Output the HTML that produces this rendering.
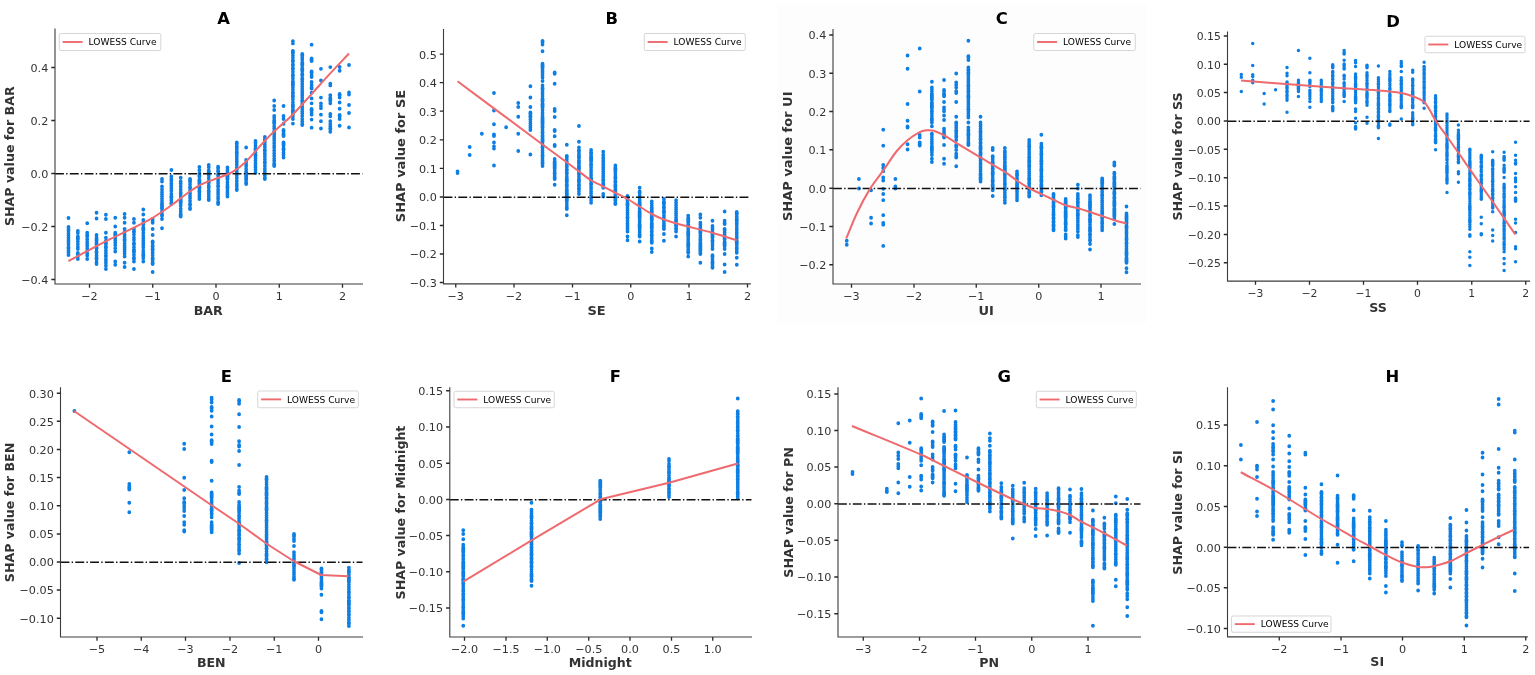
<!DOCTYPE html>
<html lang="en">
<head>
<meta charset="utf-8">
<title>SHAP dependence plots with LOWESS curves</title>
<style>
html,body{margin:0;padding:0;background:#fff;}
body{width:1535px;height:675px;overflow:hidden;}
svg{display:block;font-family:"DejaVu Sans","Liberation Sans",sans-serif;}
</style>
</head>
<body>
<svg width="1535" height="675" viewBox="0 0 1535 675">
<rect width="1535" height="675" fill="#fff"/>
<path d="M68.5 218h0M68.5 227h0M68.5 228.99h0M68.5 230.73h0M68.5 233.54h0M68.5 235.58h0M68.5 237.79h0M68.5 240.03h0M68.5 241.88h0M68.5 244.29h0M68.5 247.2V248.54M68.5 250.81h0M68.5 252.51h0M68.5 255h0M77.85 231h0M77.85 233h0M77.85 236.5V239.2M77.85 241.41h0M77.85 244.24h0M77.85 246.95h0M77.85 249h0M77.85 253V254.46M77.85 256.33h0M77.85 259h0M87.2 223.25h0M87.2 232.75h0M87.2 234.65V236.28M87.2 239.24h0M87.2 241.64h0M87.2 243.6h0M87.2 245.7h0M87.2 248.23h0M87.2 250.88h0M87.2 253.56h0M87.2 255.39h0M87.2 259h0M96.55 212.75h0M96.55 218.5h0M96.55 235h0M96.55 237.65h0M96.55 239.36V240.89M96.55 242.91V244.6M96.55 247.47V248.69M96.55 251.44V252.95M96.55 255.69h0M96.55 257.71V259.16M96.55 262.24h0M96.55 264h0M105.9 214.75h0M105.9 219h0M105.9 232.75h0M105.9 237.75h0M105.9 240.81h0M105.9 242.62V244.27M105.9 246.53V248.1M105.9 250.39h0M105.9 252.94h0M105.9 255.36V256.57M105.9 259.04h0M105.9 260.75h0M105.9 262.81h0M105.9 265.64h0M105.9 269h0M115.25 217.75h0M115.25 226.5h0M115.25 232.75V235.57M115.25 238.21h0M115.25 240.23h0M115.25 242.77h0M115.25 245.2h0M115.25 248.28h0M115.25 251.5h0M115.25 261.5h0M115.25 264.75h0M124.6 214h0M124.6 217.75h0M124.6 222.75h0M124.6 229h0M124.6 232.09h0M124.6 235.01h0M124.6 237.29h0M124.6 239.26V240.77M124.6 243.56h0M124.6 245.7h0M124.6 247.82h0M124.6 249.58h0M124.6 251.41h0M124.6 253.57h0M124.6 256.5h0M124.6 262.75h0M124.6 267h0M133.95 219h0M133.95 222.75h0M133.95 229h0M133.95 230.79V232.27M133.95 234.6h0M133.95 237.6h0M133.95 239.86h0M133.95 242.92V244.47M133.95 247.18h0M133.95 249.4V252.19M133.95 254.76h0M133.95 257.52V258.97M133.95 261.5h0M133.95 269h0M143.3 209.5h0M143.3 214.5h0M143.3 220h0M143.3 222.89V224.54M143.3 227.32V230.27M143.3 232.99h0M143.3 235.87h0M143.3 238.4h0M143.3 240.55h0M143.3 243h0M143.3 245.27h0M143.3 247.62h0M143.3 250.59h0M143.3 252.69h0M143.3 254.4V256.02M143.3 258.22h0M143.3 261.5h0M152.65 219h0M152.65 220.93h0M152.65 222.75h0M152.65 229h0M152.65 235h0M152.65 241.5V243.01M152.65 245.57V246.79M152.65 248.67V250.18M152.65 252.76h0M152.65 255.36h0M152.65 257.86V259.25M152.65 260.95h0M152.65 262.68V264M152.65 272h0M162 179h0M162 181.5h0M162 186.5h0M162 189.48h0M162 192.16h0M162 194.45h0M162 196.45h0M162 198.77h0M162 201.01h0M162 202.92V209.02M162 211.6h0M162 214.34V215.84M162 219h0M162 228.25h0M171.35 170h0M171.35 176.5h0M171.35 179.16h0M171.35 181.05h0M171.35 183.66h0M171.35 185.78h0M171.35 188.23h0M171.35 190.85h0M171.35 193.81h0M171.35 196.11V197.72M171.35 200.15h0M171.35 202.6V204M180.7 177.75h0M180.7 181.5h0M180.7 183.39h0M180.7 186.49h0M180.7 189.5h0M180.7 192.15h0M180.7 194h0M180.7 196.5h0M180.7 198.95V203.46M180.7 205.82h0M180.7 208.86h0M180.7 211.49h0M180.7 213.92V216.5M190.05 179V181.88M190.05 184.15h0M190.05 186.86V188.17M190.05 190.82h0M190.05 193.25h0M190.05 195.69h0M190.05 197.98h0M190.05 201.02h0M190.05 203.82V205.08M190.05 208.02V209M199.4 167h0M199.4 170.06h0M199.4 173.06h0M199.4 175.04V176.51M199.4 179.55V183.88M199.4 186.62V188.13M199.4 190.5V192.15M199.4 194.52h0M199.4 196.52h0M199.4 199h0M208.75 165h0M208.75 167.35h0M208.75 170.4V173.2M208.75 175.52h0M208.75 178.28h0M208.75 181.28V182.7M208.75 185.73h0M208.75 187.76h0M208.75 190.7V191.95M208.75 193.87h0M208.75 196.14h0M208.75 198.76V200M218.1 166.75V168.19M218.1 170.45V171.87M218.1 174.41V175.76M218.1 178.66h0M218.1 180.69h0M218.1 182.95h0M218.1 185.39V186.74M218.1 189.66h0M218.1 191.92h0M218.1 194.05h0M218.1 196.64h0M218.1 198.68h0M218.1 201.67V204M227.45 167.5h0M227.45 169.89h0M227.45 172.49h0M227.45 175.07V179.62M227.45 182.48h0M227.45 184.84h0M227.45 186.57V188.26M227.45 190.74h0M227.45 192.59h0M227.45 194.3h0M227.45 196.5h0M236.8 142.5V144.07M236.8 145.91V147.45M236.8 149.19h0M236.8 151.75V153.16M236.8 155.03h0M236.8 156.99h0M236.8 159.05h0M236.8 161.02h0M236.8 162.81h0M236.8 164.66h0M236.8 167.55h0M236.8 169.52h0M236.8 171.43h0M236.8 173.17h0M236.8 175.59h0M236.8 178h0M236.8 181.01h0M236.8 183.96h0M236.8 186.3h0M236.8 188.99V190M246.15 147.5h0M246.15 160h0M246.15 162.15h0M246.15 164.46h0M246.15 166.22h0M246.15 169.2h0M246.15 171.57V172.96M246.15 175.3V180.03M246.15 182.31V184M255.5 141h0M255.5 142.92h0M255.5 145.55h0M255.5 148.31V149.95M255.5 152.16h0M255.5 154.78V156.06M255.5 158.17h0M255.5 160.55h0M255.5 163.14h0M255.5 165.56h0M255.5 167.61h0M255.5 169.71h0M255.5 172.75h0M264.85 137h0M264.85 139.07V140.4M264.85 142.53h0M264.85 144.7h0M264.85 147h0M264.85 149.56V150.89M264.85 152.95h0M264.85 154.74h0M264.85 156.87h0M264.85 159.43h0M264.85 161.79V163.36M264.85 165.98h0M264.85 168.99h0M264.85 171.04h0M264.85 172.83h0M264.85 175.6h0M264.85 177.64V179M274.2 100.5h0M274.2 106h0M274.2 110h0M274.2 116h0M274.2 117.85h0M274.2 120.25V123.6M274.2 126.48h0M274.2 128.51h0M274.2 131.27V132.73M274.2 134.69h0M274.2 136.54h0M274.2 138.28h0M274.2 140.31h0M274.2 142.9h0M274.2 145.72h0M274.2 147.61h0M274.2 150.45h0M274.2 153.38h0M274.2 156.11h0M274.2 158.79h0M274.2 160.7h0M274.2 163.48V166M283.55 106h0M283.55 116h0M283.55 119h0M283.55 123.75h0M283.55 130V131.46M283.55 133.43V136M283.55 142.5V145.45M283.55 148.23V149.92M283.55 152.66h0M283.55 154.67h0M283.55 157.5h0M292.9 41.2h0M292.9 43.4h0M292.9 50.8V53.43M292.9 55.35h0M292.9 57.59h0M292.9 60.11V61.45M292.9 64.26V65.62M292.9 67.97V69.19M292.9 71.73h0M292.9 74.77V76.34M292.9 78.55h0M292.9 81.3V85.82M292.9 87.68h0M292.9 89.84h0M292.9 92.01V93.63M292.9 95.59V97.13M292.9 99.51h0M292.9 102.28h0M292.9 104.56V107.19M292.9 109.35V112.43M292.9 114.18h0M292.9 116.15h0M292.9 119h0M292.9 123.6h0M302.25 54V55.65M302.25 57.73h0M302.25 59.56h0M302.25 62.3V65.4M302.25 68.26V70.88M302.25 73.82V75.2M302.25 78.25V79.71M302.25 81.55h0M302.25 83.92h0M302.25 86.41h0M302.25 89.02h0M302.25 91.35h0M302.25 93.26h0M302.25 95.2h0M302.25 97.39h0M302.25 100.21V101.66M302.25 103.99h0M302.25 106.91h0M302.25 109.32h0M302.25 111.61h0M302.25 113.57h0M302.25 116.03h0M302.25 119.09h0M302.25 121.39h0M302.25 123.88V125M311.6 44.7h0M311.6 58.5V61M311.6 71.5V73.01M311.6 75.27h0M311.6 77h0M311.6 82h0M311.6 84.97h0M311.6 87.26V88.6M311.6 92.7h0M311.6 98.4h0M311.6 103.3h0M311.6 109V110.52M311.6 112.49h0M311.6 114.7h0M311.6 119.6h0M311.6 127.7h0M320.95 68.8h0M320.95 80.5h0M320.95 97.6h0M320.95 103.3h0M320.95 105.98h0M320.95 108.2h0M320.95 114.7h0M320.95 121.2h0M320.95 128.5h0M330.3 67.1h0M330.3 83.7h0M330.3 85.4h0M330.3 95.1h0M330.3 97.72V100.86M330.3 103.3h0M330.3 113.9h0M330.3 116.3h0M330.3 121.2h0M330.3 124.09h0M330.3 126.2h0M330.3 128.09V129.33M330.3 131.8h0M339.65 67h0M339.65 70.75h0M339.65 94V95.5M339.65 97.5h0M339.65 102.5h0M339.65 108.75h0M339.65 115V116.47M339.65 119h0M339.65 125.75h0M349 65h0M349 92.5h0M349 94.5h0M349 105h0M349 113h0M349 127.5h0" fill="none" stroke="#0C7EE4" stroke-width="3.8" stroke-linecap="round"/>
<path d="M55 173.75H362.5" stroke="#111" stroke-width="1.4" stroke-dasharray="8.9 2.25 1.4 2.25" fill="none"/>
<path d="M68.5 261C82.33 253.73 96.17 246.28 110 239.2C123.33 232.38 136.67 226.64 150 219.3C156.9 215.5 163.8 210.59 170.7 205.8C175.47 202.49 180.23 198.39 185 195C189.93 191.49 194.87 187.63 199.8 185.1C206.03 181.9 212.27 180.33 218.5 177.8C223.33 175.83 228.17 174.4 233 171.6C237.13 169.2 241.27 165.97 245.4 162.2C248.87 159.04 252.33 154.62 255.8 150.8C258.9 147.39 262 143.76 265.1 140.5C268.27 137.16 271.43 133.97 274.6 131C280.6 125.37 286.6 120.7 292.6 114.7C298.83 108.47 305.07 101.15 311.3 94.3C317.53 87.45 323.77 80.35 330 73.6C336.33 66.75 342.67 60.2 349 53.5" fill="none" stroke="#EE6A6E" stroke-width="2" stroke-linejoin="round" stroke-linecap="butt"/>
<path d="M55 29V284H362.5" fill="none" stroke="#3c3c3c" stroke-width="1.1" stroke-linecap="square"/>
<path d="M89.5 284v3.7M152.75 284v3.7M216 284v3.7M279.25 284v3.7M342.5 284v3.7M55 67.5h-3.7M55 120.5h-3.7M55 173.5h-3.7M55 226.5h-3.7M55 279.5h-3.7" fill="none" stroke="#2a2a2a" stroke-width="1.3"/>
<g font-size="11.2" fill="#333333">
<text x="89.5" y="299.6" text-anchor="middle">−2</text>
<text x="152.75" y="299.6" text-anchor="middle">−1</text>
<text x="216" y="299.6" text-anchor="middle">0</text>
<text x="279.25" y="299.6" text-anchor="middle">1</text>
<text x="342.5" y="299.6" text-anchor="middle">2</text>
<text x="48.3" y="71.9" text-anchor="end">0.4</text>
<text x="48.3" y="124.9" text-anchor="end">0.2</text>
<text x="48.3" y="177.9" text-anchor="end">0.0</text>
<text x="48.3" y="230.9" text-anchor="end">−0.2</text>
<text x="48.3" y="283.9" text-anchor="end">−0.4</text>
</g>
<text x="208.25" y="314.75" text-anchor="middle" font-size="12.6" font-weight="bold" fill="#333333">BAR</text>
<text transform="translate(14.25 156.25) rotate(-90)" text-anchor="middle" font-size="12.6" font-weight="bold" fill="#333333">SHAP value for BAR</text>
<text x="223.5" y="24" text-anchor="middle" font-size="16.4" font-weight="bold" fill="#000">A</text>
<rect x="59.3" y="33.5" width="101.5" height="17" rx="1.6" fill="#fff" fill-opacity="0.8" stroke="#ccc" stroke-opacity="0.8" stroke-width="1"/>
<path d="M62.6 42h20" stroke="#EE6A6E" stroke-width="1.9" fill="none"/>
<text x="88.6" y="45.3" font-size="9.1" fill="#000">LOWESS Curve</text>
<path d="M457.55 171.5h0M457.55 173h0M469.69 147h0M469.69 155h0M481.83 133.75h0M493.97 93h0M493.97 110.5h0M493.97 124.25h0M493.97 134.5V136M493.97 142.5h0M493.97 146.5h0M493.97 148.5h0M493.97 165.5h0M506.11 127.25h0M518.25 103h0M518.25 107h0M518.25 116.75h0M518.25 133.75h0M518.25 151h0M530.39 86.25h0M530.39 97.5h0M530.39 107h0M530.39 112.5V113.94M530.39 115.67V117.13M530.39 119.43h0M530.39 121.32h0M530.39 123.46h0M530.39 125.86h0M530.39 127.65h0M530.39 130h0M530.39 154.5h0M542.53 41V42.28M542.53 44.5h0M542.53 51.25h0M542.53 63.75V67.89M542.53 70.01h0M542.53 71.75h0M542.53 73.56h0M542.53 75.4h0M542.53 77.5h0M542.53 81h0M542.53 85.5h0M542.53 87.97V89.59M542.53 91.92h0M542.53 94.02h0M542.53 96.09h0M542.53 98.56V101.49M542.53 103.27V107.69M542.53 110.08h0M542.53 112.53h0M542.53 114.86h0M542.53 117.07V124.33M542.53 126.09V127.77M542.53 129.79h0M542.53 131.67V132.91M542.53 135.2V136.9M542.53 138.67V141.9M542.53 144.29h0M542.53 146.74V148.1M542.53 150.48h0M542.53 152.72h0M542.53 154.97V156.47M542.53 158.82h0M542.53 160.74h0M542.53 162.48V163.63M542.53 166h0M554.67 72.5V73.75M554.67 83.75h0M554.67 109h0M554.67 111h0M554.67 117h0M554.67 130V131M554.67 136.25h0M554.67 145V146M554.67 159h0M554.67 161.24V168.42M554.67 170.46h0M554.67 172.54V173.9M554.67 176.02h0M554.67 177.87V179M554.67 184.75h0M566.81 144.75h0M566.81 156V157.24M566.81 159.32h0M566.81 161.7h0M566.81 163.95h0M566.81 165.89V167.09M566.81 169.22V170.41M566.81 172.6V173.83M566.81 176.29h0M566.81 178.06V182.17M566.81 184.26V186.94M566.81 189.1V201.15M566.81 203.54h0M566.81 205.81h0M566.81 207.68V209M566.81 215.25h0M578.95 126h0M578.95 141.75h0M578.95 147.5h0M578.95 149.9V151.38M578.95 153.21h0M578.95 155.09V158.19M578.95 160.55V163.38M578.95 165.45V169.28M578.95 171.4h0M578.95 173.23V174.84M578.95 177.12h0M578.95 179.12V181.89M578.95 184.24V185.91M578.95 187.78V189.39M578.95 191.81h0M578.95 194h0M591.09 150h0M591.09 152.26V153.92M591.09 155.98V161.49M591.09 163.92V165.34M591.09 167.22h0M591.09 169.54h0M591.09 171.39h0M591.09 173.74h0M591.09 175.84h0M591.09 177.99V180.81M591.09 183.13V184.77M591.09 186.93h0M591.09 188.92h0M591.09 191.4h0M591.09 193.26h0M591.09 195.71h0M591.09 197.97h0M591.09 200.05h0M591.09 202.75h0M603.23 151.75h0M603.23 155h0M603.23 157.05h0M603.23 158.78h0M603.23 161.02h0M603.23 163.11h0M603.23 165h0M603.23 167.14h0M603.23 169h0M603.23 171.35h0M603.23 173.19h0M603.23 175.55h0M603.23 177.28h0M603.23 179.51V180.66M603.23 183.08V186.03M603.23 187.75h0M603.23 194h0M603.23 196.5h0M615.37 165.5h0M615.37 167.55V170.46M615.37 172.23h0M615.37 174.55h0M615.37 176.86V178.4M615.37 180.88V182.39M615.37 184.81V187.22M615.37 189.17V190.71M615.37 192.67h0M615.37 194.47V195.85M615.37 198.21V200.86M615.37 202.76V204M627.51 196V200.4M627.51 202.65V205.69M627.51 208.02h0M627.51 210.22h0M627.51 212.55h0M627.51 214.43h0M627.51 216.91V218.59M627.51 220.95h0M627.51 223.4h0M627.51 225.33h0M627.51 227.14h0M627.51 229.12h0M627.51 231.5h0M627.51 236.5h0M627.51 240.25h0M639.65 187.75h0M639.65 191.5V192.94M639.65 195.44h0M639.65 197.56h0M639.65 199.97h0M639.65 202.27V206.24M639.65 208.45h0M639.65 210.88V217.93M639.65 219.93h0M639.65 221.89h0M639.65 224.27V228.46M639.65 230.45h0M639.65 232.17h0M639.65 234.13V236.5M639.65 241.5h0M651.79 201.5h0M651.79 203.33h0M651.79 205.4h0M651.79 207.6V208.91M651.79 210.76V212.2M651.79 214.21h0M651.79 216.55V220.6M651.79 222.94V228.62M651.79 230.93V232.05M651.79 234.47V235.98M651.79 238.44h0M651.79 240.48V242.75M651.79 248.5h0M651.79 252h0M663.93 199h0M663.93 201.48V204.46M663.93 206.61V208.14M663.93 210.6V213.12M663.93 215.55h0M663.93 217.27h0M663.93 219.45V220.99M663.93 223.19h0M663.93 224.98V226.26M663.93 228.04V229M663.93 234h0M663.93 240.75h0M676.07 200.25h0M676.07 202.67h0M676.07 205.03h0M676.07 207.41h0M676.07 209.49h0M676.07 211.68h0M676.07 213.58h0M676.07 215.52h0M676.07 217.64h0M676.07 219.46V221.14M676.07 223.05V226.32M676.07 228.06V229.5M676.07 231.5h0M676.07 236.5h0M688.21 215.75h0M688.21 217.81V222.15M688.21 224.04V227.01M688.21 229.03h0M688.21 231.13V235.38M688.21 237.37h0M688.21 239.16h0M688.21 241.19h0M688.21 242.95V247.02M688.21 249.27h0M688.21 251.2V252.75M688.21 256.5h0M700.35 214.5h0M700.35 217.75h0M700.35 222.75h0M700.35 224.68h0M700.35 227.11h0M700.35 229.07V233.29M700.35 235.55h0M700.35 237.45h0M700.35 239.35V240.47M700.35 242.5V250.93M700.35 252.86V254M700.35 262.75h0M712.49 220.75h0M712.49 226h0M712.49 228.02h0M712.49 229.73h0M712.49 232.21V237.84M712.49 240.27V241.42M712.49 243.89h0M712.49 246.33h0M712.49 249h0M712.49 255.25V256.88M712.49 259.28h0M712.49 261.48V263.13M712.49 264.97h0M712.49 266.79V267.75M724.63 211.5h0M724.63 220.75h0M724.63 223.07V224M724.63 229V230.21M724.63 232.34h0M724.63 234.4h0M724.63 236.46V239.27M724.63 241.65V245.96M724.63 249h0M724.63 254h0M724.63 264.5h0M724.63 272h0M736.77 212V214.83M736.77 216.63h0M736.77 218.46V221.29M736.77 223.09V224.23M736.77 226.62h0M736.77 228.69h0M736.77 230.53h0M736.77 232.55h0M736.77 234.34h0M736.77 236.72h0M736.77 238.55h0M736.77 240.76V243.69M736.77 245.56h0M736.77 247.77V248.96M736.77 250.99h0M736.77 252.75h0M736.77 257.75h0M736.77 264.75h0" fill="none" stroke="#0C7EE4" stroke-width="3.8" stroke-linecap="round"/>
<path d="M443.5 197.25H750.25" stroke="#111" stroke-width="1.4" stroke-dasharray="8.9 2.25 1.4 2.25" fill="none"/>
<path d="M457.5 81.25C485.83 102.33 514.17 123.47 542.5 144.5C553.58 152.72 564.67 160.83 575.75 169C580.83 172.75 585.92 177.02 591 180.25C595.08 182.85 599.17 184.4 603.25 186.5C607.25 188.56 611.25 190.69 615.25 192.75C619.33 194.85 623.42 196.68 627.5 199C631.5 201.27 635.5 204.03 639.5 206.5C643.58 209.03 647.67 211.81 651.75 214C655.75 216.14 659.75 217.97 663.75 219.5C667.83 221.06 671.92 222.07 676 223.25C680 224.4 684 225.45 688 226.5C696.08 228.62 704.17 230.47 712.25 232.75C720.42 235.05 728.58 237.75 736.75 240.25" fill="none" stroke="#EE6A6E" stroke-width="2" stroke-linejoin="round" stroke-linecap="butt"/>
<path d="M443.5 29.5V283.9H750.25" fill="none" stroke="#3c3c3c" stroke-width="1.1" stroke-linecap="square"/>
<path d="M455.75 283.9v3.7M514 283.9v3.7M572.5 283.9v3.7M630.75 283.9v3.7M689 283.9v3.7M747.5 283.9v3.7M443.5 54.2h-3.7M443.5 82.7h-3.7M443.5 111.2h-3.7M443.5 139.8h-3.7M443.5 168.3h-3.7M443.5 197h-3.7M443.5 225.5h-3.7M443.5 254h-3.7M443.5 282.5h-3.7" fill="none" stroke="#2a2a2a" stroke-width="1.3"/>
<g font-size="11.2" fill="#333333">
<text x="455.75" y="299.5" text-anchor="middle">−3</text>
<text x="514" y="299.5" text-anchor="middle">−2</text>
<text x="572.5" y="299.5" text-anchor="middle">−1</text>
<text x="630.75" y="299.5" text-anchor="middle">0</text>
<text x="689" y="299.5" text-anchor="middle">1</text>
<text x="747.5" y="299.5" text-anchor="middle">2</text>
<text x="436.8" y="58.6" text-anchor="end">0.5</text>
<text x="436.8" y="87.1" text-anchor="end">0.4</text>
<text x="436.8" y="115.6" text-anchor="end">0.3</text>
<text x="436.8" y="144.2" text-anchor="end">0.2</text>
<text x="436.8" y="172.7" text-anchor="end">0.1</text>
<text x="436.8" y="201.4" text-anchor="end">0.0</text>
<text x="436.8" y="229.9" text-anchor="end">−0.1</text>
<text x="436.8" y="258.4" text-anchor="end">−0.2</text>
<text x="436.8" y="286.9" text-anchor="end">−0.3</text>
</g>
<text x="596.5" y="314.75" text-anchor="middle" font-size="13" font-weight="bold" fill="#333333">SE</text>
<text transform="translate(404.5 156) rotate(-90)" text-anchor="middle" font-size="13" font-weight="bold" fill="#333333">SHAP value for SE</text>
<text x="611.75" y="24.25" text-anchor="middle" font-size="16.4" font-weight="bold" fill="#000">B</text>
<rect x="644.3" y="33.5" width="101" height="17" rx="1.6" fill="#fff" fill-opacity="0.8" stroke="#ccc" stroke-opacity="0.8" stroke-width="1"/>
<path d="M647.6 42h20" stroke="#EE6A6E" stroke-width="1.9" fill="none"/>
<text x="673.6" y="45.3" font-size="9.1" fill="#000">LOWESS Curve</text>
<rect x="777" y="4.5" width="369.5" height="318.25" fill="#fdfdfd"/>
<path d="M846.75 240.75h0M846.75 244.75h0M858.91 179h0M858.91 188.5h0M871.08 190.25h0M871.08 217.75h0M871.08 223.5h0M883.24 129.7h0M883.24 145.7h0M883.24 165h0M883.24 168h0M883.24 171.2h0M883.24 177.4h0M883.24 180.5h0M883.24 188.8h0M883.24 194h0M883.24 200.2h0M883.24 215.2h0M883.24 223h0M883.24 224.7h0M883.24 245.9h0M895.4 179h0M895.4 186.5h0M895.4 188.5h0M907.57 55.5h0M907.57 68.75h0M907.57 104h0M907.57 120.75h0M907.57 126.5V127.5M907.57 144.25h0M907.57 149.5h0M919.73 48.5h0M919.73 91.5h0M919.73 135h0M919.73 137.5h0M919.73 142.5V145.5M931.89 81.75h0M931.89 87.5h0M931.89 89.2h0M931.89 91.17h0M931.89 93.56V100M931.89 102.5V108.2M931.89 110.53V111.65M931.89 113.66h0M931.89 116.03h0M931.89 118.16V120.8M931.89 122.5h0M931.89 126.25h0M931.89 133.75V134.86M931.89 137.32h0M931.89 139.49h0M931.89 141.72h0M931.89 143.73h0M931.89 146.21V150.61M931.89 152.32h0M931.89 155h0M931.89 158.75h0M931.89 162h0M944.05 80h0M944.05 90V91.1M944.05 93.4V96.25M944.05 102h0M944.05 107.5h0M944.05 109.45h0M944.05 111.25h0M944.05 115.5h0M944.05 120h0M944.05 128.75h0M944.05 130.7h0M944.05 132.83h0M944.05 134.55V137.5M944.05 145h0M944.05 158.75h0M944.05 163.75h0M956.22 73.5h0M956.22 82.5h0M956.22 84.82h0M956.22 87.5h0M956.22 91.25h0M956.22 93h0M956.22 102h0M956.22 116.75h0M956.22 122.5V123.87M956.22 125.72h0M956.22 127.79h0M956.22 130.22V131.92M956.22 133.78h0M956.22 135.86V137.05M956.22 140h0M956.22 145V146.63M956.22 150h0M956.22 153.75h0M956.22 156.08V157.5M956.22 166.25h0M968.38 40.75h0M968.38 56.25V57.55M968.38 60h0M968.38 67.5h0M968.38 69.28V70.82M968.38 72.59V74.12M968.38 76.04h0M968.38 78.14h0M968.38 80.19h0M968.38 82.42h0M968.38 84.64V86.24M968.38 88.25h0M968.38 90.43V91.63M968.38 93.68h0M968.38 95.42V98.22M968.38 100.4h0M968.38 102.43h0M968.38 104.29h0M968.38 106.65h0M968.38 108.59V109.71M968.38 111.71h0M968.38 113.53h0M968.38 115.73h0M968.38 117.5h0M968.38 122.5h0M968.38 127.5h0M968.38 129.66V130.85M968.38 132.91V135.64M968.38 137.8h0M968.38 140.04h0M968.38 142.48V145M980.54 116.75h0M980.54 122.5h0M980.54 124.53h0M980.54 126.59h0M980.54 128.84h0M980.54 131.11V132.3M980.54 134.27h0M980.54 136.21h0M980.54 138.23V139.82M980.54 142.27V143.64M980.54 145.9V149.76M980.54 152.11V154.76M980.54 156.9V158.43M980.54 160.85h0M980.54 163.12h0M980.54 164.85h0M980.54 166.92h0M980.54 169.18h0M980.54 171.24h0M980.54 173.65V175.18M980.54 177.08V179.65M980.54 181.5h0M992.71 148h0M992.71 150h0M992.71 156.25V157.37M992.71 159.25h0M992.71 161.35V164.09M992.71 166.44h0M992.71 168.35V169.55M992.71 171.71V174.81M992.71 177.28h0M992.71 179.75V182.12M992.71 184.18V190.25M992.71 196h0M1004.87 148h0M1004.87 151.25V152.66M1004.87 154.63h0M1004.87 156.46V158.03M1004.87 159.78h0M1004.87 161.77V163.01M1004.87 164.98V171.81M1004.87 173.66V174.96M1004.87 177.2h0M1004.87 179.04h0M1004.87 181.37h0M1004.87 183.22V184.65M1004.87 187.09h0M1004.87 189.01V190.59M1004.87 192.53h0M1004.87 194.38h0M1004.87 196.48V197.79M1004.87 200.16h0M1004.87 202.75h0M1017.03 171.5h0M1017.03 173.27V175.83M1017.03 178.01h0M1017.03 179.73h0M1017.03 181.64h0M1017.03 183.61V187.47M1017.03 189.79h0M1017.03 191.7h0M1017.03 193.99h0M1017.03 196.12h0M1017.03 198.12h0M1017.03 200.25h0M1029.19 140h0M1029.19 142.11h0M1029.19 143.96h0M1029.19 145.83V147.52M1029.19 149.59h0M1029.19 151.94h0M1029.19 154.32h0M1029.19 156.72V157.92M1029.19 159.78V162.79M1029.19 164.67V166.99M1029.19 169.09h0M1029.19 171.34h0M1029.19 173.24h0M1029.19 175.42h0M1029.19 177.81V180.57M1029.19 182.4V183.9M1029.19 186.06h0M1029.19 187.87V189.35M1029.19 191.76V193.28M1029.19 195.22V196.5M1041.36 134.75h0M1041.36 143.75h0M1041.36 146.04V148.87M1041.36 151.33h0M1041.36 153.15V154.68M1041.36 156.48h0M1041.36 158.38h0M1041.36 160.26V161.65M1041.36 163.45V164.62M1041.36 166.68h0M1041.36 168.87V171.59M1041.36 173.78h0M1041.36 175.89V177.21M1041.36 179.2V182.01M1041.36 184.14V188.49M1041.36 190.57V192.24M1041.36 195.25h0M1053.52 194V195.1M1053.52 196.84h0M1053.52 198.89V200.11M1053.52 202.11V203.23M1053.52 205.16V207.62M1053.52 209.68h0M1053.52 212.06h0M1053.52 214.02V215.28M1053.52 217.43V218.64M1053.52 220.9V222.4M1053.52 224.39V226.87M1053.52 228.72V230.25M1065.68 199h0M1065.68 200.83V205.41M1065.68 207.11V208.42M1065.68 210.76V217.69M1065.68 219.43h0M1065.68 221.69V224.7M1065.68 226.92h0M1065.68 229.23V230.25M1065.68 234.5h0M1065.68 236.68h0M1065.68 238.5h0M1077.85 184.75h0M1077.85 188.5h0M1077.85 194h0M1077.85 196.04h0M1077.85 198.05V199.22M1077.85 201.21V202.89M1077.85 204.88h0M1077.85 207.26h0M1077.85 209.2V210.89M1077.85 213.2V216.03M1077.85 217.95h0M1077.85 220.34h0M1077.85 222.34h0M1077.85 224.64h0M1077.85 226.71h0M1077.85 228.87h0M1077.85 231.5h0M1077.85 235.25h0M1077.85 237h0M1090.01 195.25h0M1090.01 196.99h0M1090.01 199.22h0M1090.01 201.11V208.48M1090.01 210.67h0M1090.01 212.69h0M1090.01 214.95V216.25M1090.01 218.21V222.4M1090.01 224.69h0M1090.01 227.08V231.47M1090.01 233.83V235.23M1090.01 237.5h0M1090.01 239.58V240.84M1090.01 244h0M1090.01 249.5h0M1102.17 178.5V184.04M1102.17 185.84h0M1102.17 187.7h0M1102.17 189.46h0M1102.17 191.92h0M1102.17 194.32V195.91M1102.17 198.17h0M1102.17 200.4h0M1102.17 202.17h0M1102.17 204.57h0M1102.17 206.82h0M1102.17 208.55h0M1102.17 210.55V213.47M1102.17 215.31h0M1102.17 217.29V218.41M1102.17 220.83h0M1102.17 222.53V223.74M1102.17 226.23h0M1102.17 228.07h0M1102.17 230.25h0M1114.34 162.5h0M1114.34 164.46V165.5M1114.34 172.75V174M1114.34 176.49V179.72M1114.34 181.65V187.17M1114.34 189.5h0M1114.34 191.83V194.58M1114.34 196.98V198.67M1114.34 200.8V206.13M1114.34 208.38V216.61M1114.34 219h0M1114.34 224h0M1126.5 206.5h0M1126.5 213.5h0M1126.5 215.27V219.89M1126.5 221.83V223.32M1126.5 225.56V228.6M1126.5 230.63h0M1126.5 232.48h0M1126.5 234.33h0M1126.5 236.56h0M1126.5 238.45V240.11M1126.5 242.45V243.85M1126.5 246.06h0M1126.5 248.3h0M1126.5 250.38h0M1126.5 252.09V255.11M1126.5 257.46V262.75M1126.5 268.25h0M1126.5 272.25h0" fill="none" stroke="#0C7EE4" stroke-width="3.8" stroke-linecap="round"/>
<path d="M833 188.5H1140.5" stroke="#111" stroke-width="1.4" stroke-dasharray="8.9 2.25 1.4 2.25" fill="none"/>
<path d="M846.2 238.5C849.8 230 853.4 220.54 857 213C861.13 204.34 865.27 196.58 869.4 189.9C874.1 182.31 878.8 176.88 883.5 170.2C887.8 164.08 892.1 156.83 896.4 151.5C900.2 146.79 904 143.28 907.8 140.1C911.6 136.92 915.4 134.39 919.2 132.4C921.63 131.12 924.07 130.59 926.5 130.3C928.9 130.02 931.3 130.02 933.7 130.7C937.17 131.68 940.63 133.41 944.1 135.3C948.27 137.57 952.43 140.66 956.6 143.2C964.67 148.12 972.73 152.9 980.8 157.7C988.97 162.56 997.13 167.02 1005.3 172.2C1009.12 174.62 1012.93 177.94 1016.75 180.5C1020.92 183.29 1025.08 185.95 1029.25 188.25C1033.25 190.45 1037.25 192.1 1041.25 194C1045.33 195.94 1049.42 197.86 1053.5 199.75C1057.5 201.61 1061.5 203.85 1065.5 205.25C1069.58 206.68 1073.67 207.12 1077.75 208.25C1081.83 209.38 1085.92 210.7 1090 212C1094 213.28 1098 214.64 1102 216C1106.08 217.39 1110.17 219 1114.25 220.25C1118.33 221.5 1122.42 222.42 1126.5 223.5" fill="none" stroke="#EE6A6E" stroke-width="2" stroke-linejoin="round" stroke-linecap="butt"/>
<path d="M833 29.5V284H1140.5" fill="none" stroke="#3c3c3c" stroke-width="1.1" stroke-linecap="square"/>
<path d="M851.5 284v3.7M914 284v3.7M976.25 284v3.7M1038.75 284v3.7M1101 284v3.7M833 35h-3.7M833 73.25h-3.7M833 111.5h-3.7M833 149.75h-3.7M833 188.25h-3.7M833 226.5h-3.7M833 264.75h-3.7" fill="none" stroke="#2a2a2a" stroke-width="1.3"/>
<g font-size="11.2" fill="#333333">
<text x="851.5" y="299.6" text-anchor="middle">−3</text>
<text x="914" y="299.6" text-anchor="middle">−2</text>
<text x="976.25" y="299.6" text-anchor="middle">−1</text>
<text x="1038.75" y="299.6" text-anchor="middle">0</text>
<text x="1101" y="299.6" text-anchor="middle">1</text>
<text x="826.3" y="39.4" text-anchor="end">0.4</text>
<text x="826.3" y="77.65" text-anchor="end">0.3</text>
<text x="826.3" y="115.9" text-anchor="end">0.2</text>
<text x="826.3" y="154.15" text-anchor="end">0.1</text>
<text x="826.3" y="192.65" text-anchor="end">0.0</text>
<text x="826.3" y="230.9" text-anchor="end">−0.1</text>
<text x="826.3" y="269.15" text-anchor="end">−0.2</text>
</g>
<text x="986.25" y="314.75" text-anchor="middle" font-size="13" font-weight="bold" fill="#333333">UI</text>
<text transform="translate(792.2 156.3) rotate(-90)" text-anchor="middle" font-size="13" font-weight="bold" fill="#333333">SHAP value for UI</text>
<text x="1001.75" y="24.25" text-anchor="middle" font-size="16.4" font-weight="bold" fill="#000">C</text>
<rect x="1033.8" y="33.5" width="101.5" height="17" rx="1.6" fill="#fff" fill-opacity="0.8" stroke="#ccc" stroke-opacity="0.8" stroke-width="1"/>
<path d="M1037.1 42h20" stroke="#EE6A6E" stroke-width="1.9" fill="none"/>
<text x="1063.1" y="45.3" font-size="9.1" fill="#000">LOWESS Curve</text>
<path d="M1241.3 74.55h0M1241.3 77.3h0M1241.3 91.55h0M1252.73 43.55h0M1252.73 65.55h0M1252.73 74.8h0M1252.73 76.55h0M1252.73 80.3h0M1252.73 82.8h0M1264.15 93.55h0M1264.15 104.05h0M1275.58 89.8h0M1287.01 67.55h0M1287.01 73.3h0M1287.01 75.8h0M1287.01 82.05V83.31M1287.01 85.22h0M1287.01 86.92V88.39M1287.01 90.7V92.26M1287.01 94.72V96.33M1287.01 98.2h0M1287.01 100.3h0M1287.01 112.3h0M1298.43 50.55h0M1298.43 80.3h0M1298.43 82.49V83.65M1298.43 85.78V89.84M1298.43 91.55h0M1298.43 96.55h0M1309.86 58.3h0M1309.86 72.8h0M1309.86 80.3V83.04M1309.86 84.88V86.55M1309.86 90.3h0M1309.86 92.15h0M1309.86 93.98h0M1309.86 96.07h0M1309.86 98.42h0M1309.86 101.55h0M1309.86 107.3h0M1321.29 80.3h0M1321.29 82.23h0M1321.29 84.2h0M1321.29 86.13V87.71M1321.29 89.91V91.18M1321.29 93.6h0M1321.29 95.37h0M1321.29 97.52h0M1321.29 99.59h0M1321.29 101.55h0M1332.72 64.8V67.8M1332.72 71.55V72.82M1332.72 74.96V76.64M1332.72 78.67V79.83M1332.72 82.24V83.91M1332.72 86.18h0M1332.72 88.35V89.58M1332.72 91.73h0M1332.72 93.82h0M1332.72 96.05h0M1332.72 98.24V99.71M1332.72 101.63V102.8M1332.72 106.55V110.8M1344.14 50.55h0M1344.14 52.43V54.05M1344.14 60.3h0M1344.14 64.05V65.68M1344.14 67.67V69.05M1344.14 75.3V76.44M1344.14 79.05h0M1344.14 82.8V84.04M1344.14 86.34h0M1344.14 88.24V89.69M1344.14 91.92V96.55M1344.14 101.55h0M1355.57 60.55h0M1355.57 62.8h0M1355.57 66.55h0M1355.57 74.05h0M1355.57 76.25V78.93M1355.57 81.15h0M1355.57 83.59V86.68M1355.57 88.6V90.3M1355.57 92.15h0M1355.57 94.3h0M1355.57 96.62V101.01M1355.57 102.8h0M1355.57 109.05h0M1355.57 111.55h0M1355.57 118.3h0M1355.57 122.8h0M1355.57 126.55V129.05M1367 65.3V67.8M1367 72.8h0M1367 74.76V76.44M1367 78.23h0M1367 80.5h0M1367 82.89V84.51M1367 86.57h0M1367 89.01V90.47M1367 92.63V98.23M1367 100.72V103.11M1367 105.3h0M1367 117.3h0M1367 123.3h0M1378.42 66.05h0M1378.42 77.8h0M1378.42 79.59h0M1378.42 81.55h0M1378.42 83.38V84.79M1378.42 87.02h0M1378.42 89.35h0M1378.42 91.79V93.29M1378.42 95.49h0M1378.42 97.82V99.06M1378.42 101.03h0M1378.42 102.82V105.97M1378.42 108.09V109.45M1378.42 111.41V112.73M1378.42 114.89V117.78M1378.42 119.52V121.06M1378.42 122.78h0M1378.42 125.18V127.8M1378.42 138.55h0M1389.85 71.55h0M1389.85 74.01h0M1389.85 76.12h0M1389.85 78.05V81.19M1389.85 83.64h0M1389.85 85.62h0M1389.85 87.97V89.48M1389.85 91.74h0M1389.85 94.18V96.96M1389.85 98.8V101.63M1389.85 103.43V106.02M1389.85 108.28h0M1389.85 110.27V111.55M1389.85 124.05V125.3M1401.28 61.55h0M1401.28 63.55h0M1401.28 65.39V66.55M1401.28 71.55h0M1401.28 77.8h0M1401.28 79.89V81.15M1401.28 83.25V84.9M1401.28 87.25h0M1401.28 89.07h0M1401.28 90.8h0M1401.28 93.02h0M1401.28 94.81h0M1401.28 96.87h0M1401.28 98.65h0M1401.28 100.54h0M1401.28 102.99h0M1401.28 104.94V107.8M1401.28 119.05h0M1412.7 70.3h0M1412.7 72.3h0M1412.7 79.05V80.59M1412.7 82.53h0M1412.7 84.84V86.42M1412.7 88.79h0M1412.7 90.77V96.6M1412.7 98.81V100.2M1412.7 102.61h0M1412.7 104.96V107.8M1412.7 112.8h0M1412.7 115.07h0M1412.7 117.2V119.89M1412.7 122.07h0M1412.7 123.89V124.8M1424.13 62.3h0M1424.13 66.55V67.85M1424.13 69.56V70.77M1424.13 72.79V73.94M1424.13 75.68h0M1424.13 77.92V79.12M1424.13 81.18V82.41M1424.13 84.77h0M1424.13 86.73V88.17M1424.13 90.33h0M1424.13 92.13V93.24M1424.13 95.22h0M1424.13 97.55h0M1424.13 99.59h0M1424.13 101.78V102.8M1424.13 108.3h0M1435.56 95.8h0M1435.56 97.77V98.96M1435.56 101.29V102.97M1435.56 105.45V108.17M1435.56 109.93V111.61M1435.56 113.48h0M1435.56 115.95V117.21M1435.56 119.59V120.72M1435.56 122.88h0M1435.56 124.99h0M1435.56 126.99V131.09M1435.56 133.55h0M1435.56 135.29V136.63M1435.56 139.07V142.8M1435.56 149.8h0M1446.99 114.05h0M1446.99 115.93h0M1446.99 118.17h0M1446.99 120.51h0M1446.99 122.26V123.37M1446.99 125.78h0M1446.99 127.76h0M1446.99 129.51h0M1446.99 131.76h0M1446.99 133.94V135.15M1446.99 136.9h0M1446.99 139.08h0M1446.99 141.04h0M1446.99 143.23V148.81M1446.99 150.67h0M1446.99 152.49V156.69M1446.99 159.08V160.23M1446.99 162.7h0M1446.99 165.17V173.59M1446.99 176.07h0M1446.99 177.96V180.91M1446.99 183.05h0M1446.99 192.55h0M1458.41 125.05h0M1458.41 130.3h0M1458.41 132.74h0M1458.41 134.49V140M1458.41 142.22h0M1458.41 144.48h0M1458.41 146.23V147.88M1458.41 150.25V151.54M1458.41 154.01h0M1458.41 155.85V157.31M1458.41 159.25h0M1458.41 161.62V162.8M1458.41 171.8h0M1458.41 173.8h0M1458.41 182.3h0M1469.84 149.3V150.71M1469.84 153.04h0M1469.84 154.9h0M1469.84 157.02h0M1469.84 158.81h0M1469.84 160.93V168.34M1469.84 170.44h0M1469.84 172.92V174.35M1469.84 176.08h0M1469.84 177.89V181.66M1469.84 183.57V186.38M1469.84 188.4V189.79M1469.84 191.88V195M1469.84 196.77h0M1469.84 198.82h0M1469.84 201.32h0M1469.84 203.79h0M1469.84 205.81V210.24M1469.84 211.97h0M1469.84 213.72h0M1469.84 215.58h0M1469.84 217.7h0M1469.84 219.62V222.61M1469.84 224.6h0M1469.84 226.82h0M1469.84 229.3h0M1469.84 234.8V236.3M1469.84 251.8h0M1469.84 257.3h0M1469.84 265.55h0M1481.27 155.3V159.24M1481.27 161.37V162.85M1481.27 165.28V167.69M1481.27 169.98h0M1481.27 171.81h0M1481.27 174.17V176.59M1481.27 178.99V180.18M1481.27 181.9V183.52M1481.27 185.72h0M1481.27 187.45h0M1481.27 189.25V192.29M1481.27 194.47h0M1481.27 196.45h0M1481.27 198.33V199.3M1481.27 217.3h0M1481.27 223.8h0M1481.27 233.8V234.8M1492.69 151.8h0M1492.69 160.3V165.79M1492.69 168.16V169.48M1492.69 171.8h0M1492.69 174.11h0M1492.69 176.23h0M1492.69 178.63h0M1492.69 180.7V182.15M1492.69 184.55h0M1492.69 186.29h0M1492.69 188.79V191.58M1492.69 193.6V195.05M1492.69 197.39V198.63M1492.69 200.79h0M1492.69 202.87h0M1492.69 204.79h0M1492.69 206.86V208.05M1492.69 211.8h0M1492.69 230.05h0M1492.69 235.55h0M1492.69 241.05h0M1504.12 152.3h0M1504.12 156.55V160.3M1504.12 165.3h0M1504.12 167.77V172.3M1504.12 177.55h0M1504.12 184.3h0M1504.12 186.1V188.91M1504.12 191h0M1504.12 193.39V194.85M1504.12 196.58V197.8M1504.12 200.21h0M1504.12 201.97h0M1504.12 203.8h0M1504.12 205.53V208M1504.12 210.3V215.82M1504.12 217.69h0M1504.12 220.11h0M1504.12 222.22V223.8M1504.12 225.52V226.82M1504.12 228.86V230M1504.12 231.77h0M1504.12 233.9h0M1504.12 235.89h0M1504.12 237.94V239.07M1504.12 241.55h0M1504.12 243.56V244.96M1504.12 247.3h0M1504.12 249.35h0M1504.12 251.8h0M1504.12 258.55h0M1504.12 263.8h0M1504.12 270.55h0M1515.55 142.3h0M1515.55 155.3h0M1515.55 160.3h0M1515.55 162.68V164.05M1515.55 173.55h0M1515.55 178.05h0M1515.55 179.81h0M1515.55 181.8h0M1515.55 186.8h0M1515.55 192.55h0M1515.55 198.05V201.3M1515.55 219.3h0M1515.55 223.05h0M1515.55 232.55h0M1515.55 246.8h0M1515.55 248.8h0M1515.55 261.8h0" fill="none" stroke="#0C7EE4" stroke-width="3.5" stroke-linecap="round"/>
<path d="M1227.5 121.25H1529.6" stroke="#111" stroke-width="1.4" stroke-dasharray="8.9 2.25 1.4 2.25" fill="none"/>
<path d="M1241 80.5C1271.5 82.83 1302 85.28 1332.5 87.5C1347.75 88.61 1363 89.28 1378.25 90.5C1385.83 91.11 1393.42 91.73 1401 93C1404.83 93.64 1408.67 94.79 1412.5 96.25C1416.33 97.71 1420.17 98.69 1424 101.75C1425.92 103.28 1427.83 106.88 1429.75 110C1431.67 113.12 1433.58 117.54 1435.5 120.5C1439.25 126.29 1443 130.98 1446.75 136.25C1450.58 141.64 1454.42 147.02 1458.25 152.5C1462 157.86 1465.75 163.35 1469.5 168.75C1473.33 174.27 1477.17 179.79 1481 185.25C1484.83 190.71 1488.67 196.02 1492.5 201.5C1496.25 206.86 1500 212.31 1503.75 217.75C1507.58 223.31 1511.42 228.92 1515.25 234.5" fill="none" stroke="#EE6A6E" stroke-width="2" stroke-linejoin="round" stroke-linecap="butt"/>
<path d="M1227.5 32V281.1H1529.5" fill="none" stroke="#3c3c3c" stroke-width="1.1" stroke-linecap="square"/>
<path d="M1255.5 281.1v3.7M1309.5 281.1v3.7M1363.5 281.1v3.7M1417.5 281.1v3.7M1471.75 281.1v3.7M1525.75 281.1v3.7M1227.5 36h-3.7M1227.5 64.25h-3.7M1227.5 92.5h-3.7M1227.5 121h-3.7M1227.5 149.25h-3.7M1227.5 177.75h-3.7M1227.5 206h-3.7M1227.5 234.5h-3.7M1227.5 262.75h-3.7" fill="none" stroke="#2a2a2a" stroke-width="1.3"/>
<g font-size="10.8" fill="#333333">
<text x="1255.5" y="296.7" text-anchor="middle">−3</text>
<text x="1309.5" y="296.7" text-anchor="middle">−2</text>
<text x="1363.5" y="296.7" text-anchor="middle">−1</text>
<text x="1417.5" y="296.7" text-anchor="middle">0</text>
<text x="1471.75" y="296.7" text-anchor="middle">1</text>
<text x="1525.75" y="296.7" text-anchor="middle">2</text>
<text x="1220.8" y="40.4" text-anchor="end">0.15</text>
<text x="1220.8" y="68.65" text-anchor="end">0.10</text>
<text x="1220.8" y="96.9" text-anchor="end">0.05</text>
<text x="1220.8" y="125.4" text-anchor="end">0.00</text>
<text x="1220.8" y="153.65" text-anchor="end">−0.05</text>
<text x="1220.8" y="182.15" text-anchor="end">−0.10</text>
<text x="1220.8" y="210.4" text-anchor="end">−0.15</text>
<text x="1220.8" y="238.9" text-anchor="end">−0.20</text>
<text x="1220.8" y="267.15" text-anchor="end">−0.25</text>
</g>
<text x="1378" y="311.5" text-anchor="middle" font-size="12.6" font-weight="bold" fill="#333333">SS</text>
<text transform="translate(1181.75 156.5) rotate(-90)" text-anchor="middle" font-size="12.6" font-weight="bold" fill="#333333">SHAP value for SS</text>
<text x="1393" y="26.5" text-anchor="middle" font-size="16.4" font-weight="bold" fill="#000">D</text>
<rect x="1425" y="36.25" width="100" height="16.5" rx="1.6" fill="#fff" fill-opacity="0.8" stroke="#ccc" stroke-opacity="0.8" stroke-width="1"/>
<path d="M1428.3 44.5h20" stroke="#EE6A6E" stroke-width="1.9" fill="none"/>
<text x="1454.3" y="47.8" font-size="9.1" fill="#000">LOWESS Curve</text>
<path d="M74.4 411h0M129.3 452.25h0M129.3 484h0M129.3 486.03V489.5M129.3 502.75h0M129.3 512.25h0M184.2 443.75h0M184.2 449h0M184.2 477.75h0M184.2 490h0M184.2 498.25h0M184.2 502V503.49M184.2 505.86h0M184.2 508.05h0M184.2 511h0M184.2 516h0M184.2 522.25h0M184.2 524.75h0M184.2 530.25V531.5M211.65 397.75h0M211.65 399.6h0M211.65 402.5h0M211.65 407V408.48M211.65 410.75h0M211.65 416.5h0M211.65 426.5h0M211.65 434.5h0M211.65 440.25V441.91M211.65 444h0M211.65 460.75V462M211.65 480.75h0M211.65 492.5V498.02M211.65 500.06h0M211.65 502.05h0M211.65 504.19h0M211.65 506.27h0M211.65 508.5V511.23M211.65 513.17V514.26M211.65 517.25h0M211.65 522.25h0M211.65 524.33V530.51M211.65 532.25h0M239.1 400V401.23M239.1 403.75h0M239.1 414.25h0M239.1 427h0M239.1 441.25h0M239.1 445V446.5M239.1 451h0M239.1 465h0M239.1 487h0M239.1 490.75h0M239.1 492.8V494M239.1 502h0M239.1 504.4h0M239.1 506.17V511.13M239.1 513.11h0M239.1 515.5V516.73M239.1 518.46h0M239.1 520.43h0M239.1 522.14V524.83M239.1 527.05h0M239.1 529.38V532.11M239.1 533.84V535.47M239.1 537.47V540.1M239.1 542.3h0M239.1 544.15V545.24M239.1 547.42h0M239.1 549.5V550.69M239.1 553.5h0M239.1 563h0M266.55 477h0M266.55 478.74V480.05M266.55 482.37h0M266.55 484.61h0M266.55 487.05V490M266.55 490h0M266.55 491.93V495.86M266.55 497.62V498.7M266.55 500.93h0M266.55 502.81V504.1M266.55 506.01h0M266.55 507.84V510.54M266.55 512.93h0M266.55 515.34h0M266.55 517.47h0M266.55 519.82V520.92M266.55 522.94h0M266.55 525.36h0M266.55 527.41h0M266.55 529.54h0M266.55 531.68h0M266.55 534.16h0M266.55 535.88h0M266.55 537.75h0M266.55 539.55h0M266.55 541.61V545.76M266.55 547.93V549.29M266.55 551.52h0M266.55 553.68V556.26M266.55 558.31V559.42M266.55 562.25h0M294 534V536.58M294 538.92h0M294 541h0M294 546h0M294 552.25h0M294 554.68h0M294 556.56h0M294 558.29h0M294 560.11h0M294 561.96V562.98M294 564.8V566.24M294 568.06h0M294 570.49h0M294 572.6h0M294 574.31h0M294 576.3h0M294 578.09V579.75M321.45 568.5V569.74M321.45 571.83V573.05M321.45 575.38h0M321.45 577.35h0M321.45 579.24h0M321.45 581.72V586.45M321.45 588.5h0M321.45 594.75h0M321.45 611V612.25M321.45 619.25h0M348.9 567.75h0M348.9 569.87V572.71M348.9 574.92h0M348.9 576.65V582.23M348.9 584.62h0M348.9 586.63h0M348.9 588.98h0M348.9 591.3V592.86M348.9 594.84h0M348.9 596.91V598.17M348.9 600.3V605.13M348.9 607.48V608.93M348.9 610.88V612.1M348.9 614.09V615.23M348.9 617.65h0M348.9 620h0M348.9 620h0M348.9 622.46V623.79M348.9 626h0" fill="none" stroke="#0C7EE4" stroke-width="3.8" stroke-linecap="round"/>
<path d="M60.5 562.25H362.5" stroke="#111" stroke-width="1.4" stroke-dasharray="8.9 2.25 1.4 2.25" fill="none"/>
<path d="M74 411L211.25 505L238.75 523.5L266.25 543.5L293.5 561L321.2 575L348.5 576.25" fill="none" stroke="#EE6A6E" stroke-width="2" stroke-linejoin="round" stroke-linecap="butt"/>
<path d="M60.5 387.75V637H362.5" fill="none" stroke="#3c3c3c" stroke-width="1.1" stroke-linecap="square"/>
<path d="M97 637v3.7M141.25 637v3.7M185.5 637v3.7M230 637v3.7M274.25 637v3.7M318.5 637v3.7M60.5 393.25h-3.7M60.5 421.25h-3.7M60.5 449.5h-3.7M60.5 477.5h-3.7M60.5 505.75h-3.7M60.5 534h-3.7M60.5 562h-3.7M60.5 590h-3.7M60.5 618.25h-3.7" fill="none" stroke="#2a2a2a" stroke-width="1.3"/>
<g font-size="11.2" fill="#333333">
<text x="97" y="652.6" text-anchor="middle">−5</text>
<text x="141.25" y="652.6" text-anchor="middle">−4</text>
<text x="185.5" y="652.6" text-anchor="middle">−3</text>
<text x="230" y="652.6" text-anchor="middle">−2</text>
<text x="274.25" y="652.6" text-anchor="middle">−1</text>
<text x="318.5" y="652.6" text-anchor="middle">0</text>
<text x="53.8" y="397.65" text-anchor="end">0.30</text>
<text x="53.8" y="425.65" text-anchor="end">0.25</text>
<text x="53.8" y="453.9" text-anchor="end">0.20</text>
<text x="53.8" y="481.9" text-anchor="end">0.15</text>
<text x="53.8" y="510.15" text-anchor="end">0.10</text>
<text x="53.8" y="538.4" text-anchor="end">0.05</text>
<text x="53.8" y="566.4" text-anchor="end">0.00</text>
<text x="53.8" y="594.4" text-anchor="end">−0.05</text>
<text x="53.8" y="622.65" text-anchor="end">−0.10</text>
</g>
<text x="211.25" y="666.75" text-anchor="middle" font-size="12.6" font-weight="bold" fill="#333333">BEN</text>
<text transform="translate(14.3 512.5) rotate(-90)" text-anchor="middle" font-size="12.6" font-weight="bold" fill="#333333">SHAP value for BEN</text>
<text x="226.25" y="382" text-anchor="middle" font-size="16.4" font-weight="bold" fill="#000">E</text>
<rect x="257.8" y="391" width="100.5" height="16.75" rx="1.6" fill="#fff" fill-opacity="0.8" stroke="#ccc" stroke-opacity="0.8" stroke-width="1"/>
<path d="M261.1 399.38h20" stroke="#EE6A6E" stroke-width="1.9" fill="none"/>
<text x="287.1" y="402.68" font-size="9.1" fill="#000">LOWESS Curve</text>
<path d="M463.25 530.25h0M463.25 534h0M463.25 539.25h0M463.25 544.75h0M463.25 546.92V552.25M463.25 554.75V555.87M463.25 557.71h0M463.25 559.45h0M463.25 561.35V569.35M463.25 571.34V576.23M463.25 578.51V580.98M463.25 582.95V584.02M463.25 586.05h0M463.25 588.18h0M463.25 590.24V591.33M463.25 593.53V594.75M463.25 596.77h0M463.25 598.79V600.42M463.25 602.37h0M463.25 604.35h0M463.25 606.38V607.71M463.25 609.96h0M463.25 611.73V614.2M463.25 616.27h0M463.25 618.5h0M463.25 625.75h0M531.5 502.75h0M531.5 509.75h0M531.5 511.87h0M531.5 513.69h0M531.5 515.61V518.18M531.5 520.37h0M531.5 522.36V524.02M531.5 526.14V529.58M531.5 531.74V536.38M531.5 538.54h0M531.5 540.8V541.78M531.5 543.62V544.82M531.5 546.92V548.18M531.5 550.13V551.11M531.5 552.81V555.38M531.5 557.57V559.13M531.5 561.06V563.57M531.5 565.7V567.33M531.5 569.58h0M531.5 571.44h0M531.5 573.71V576.73M531.5 578.9V581M531.5 585.75h0M600.25 480.75V487.66M600.25 489.49h0M600.25 491.61h0M600.25 493.35V494.73M600.25 496.65V497.59M600.25 499.57V502.87M600.25 504.61V513.48M600.25 515.23V516.63M600.25 519h0M669 459h0M669 460.75h0M669 464h0M669 465.99V467.65M669 469.78h0M669 471.76V473.32M669 475.61h0M669 477.66V486.14M669 488.29V489.7M669 491.8V493.31M669 495.17h0M669 497h0M737.75 398.5h0M737.75 411.25h0M737.75 413.2V414.43M737.75 416.33V417.69M737.75 420h0M737.75 420h0M737.75 421.98V423M737.75 425.01h0M737.75 426.72V427.83M737.75 429.74V431.29M737.75 433.57h0M737.75 435.35V436.51M737.75 438.27V444.09M737.75 446.37V454.09M737.75 456.1h0M737.75 457.99V458.94M737.75 460.64V462.22M737.75 464.33V466.58M737.75 468.64V473.67M737.75 475.76V476.84M737.75 478.83V480.01M737.75 481.9h0M737.75 483.71h0M737.75 485.74h0M737.75 487.74h0M737.75 489.45h0M737.75 491.68V494.46M737.75 496.26h0M737.75 498.25h0" fill="none" stroke="#0C7EE4" stroke-width="3.8" stroke-linecap="round"/>
<path d="M449.8 499.75H751.5" stroke="#111" stroke-width="1.4" stroke-dasharray="8.9 2.25 1.4 2.25" fill="none"/>
<path d="M463.25 581.7L531.5 540.45L600.6 499.3L669 482.7L737.75 463.45" fill="none" stroke="#EE6A6E" stroke-width="2" stroke-linejoin="round" stroke-linecap="butt"/>
<path d="M449.8 387.75V637H751.5" fill="none" stroke="#3c3c3c" stroke-width="1.1" stroke-linecap="square"/>
<path d="M464.5 637v3.7M506 637v3.7M547.25 637v3.7M588.75 637v3.7M630 637v3.7M671.5 637v3.7M712.75 637v3.7M449.8 390.75h-3.7M449.8 427h-3.7M449.8 463.25h-3.7M449.8 499.5h-3.7M449.8 535.5h-3.7M449.8 571.75h-3.7M449.8 608h-3.7" fill="none" stroke="#2a2a2a" stroke-width="1.3"/>
<g font-size="11.2" fill="#333333">
<text x="464.5" y="652.6" text-anchor="middle">−2.0</text>
<text x="506" y="652.6" text-anchor="middle">−1.5</text>
<text x="547.25" y="652.6" text-anchor="middle">−1.0</text>
<text x="588.75" y="652.6" text-anchor="middle">−0.5</text>
<text x="630" y="652.6" text-anchor="middle">0.0</text>
<text x="671.5" y="652.6" text-anchor="middle">0.5</text>
<text x="712.75" y="652.6" text-anchor="middle">1.0</text>
<text x="443.1" y="395.15" text-anchor="end">0.15</text>
<text x="443.1" y="431.4" text-anchor="end">0.10</text>
<text x="443.1" y="467.65" text-anchor="end">0.05</text>
<text x="443.1" y="503.9" text-anchor="end">0.00</text>
<text x="443.1" y="539.9" text-anchor="end">−0.05</text>
<text x="443.1" y="576.15" text-anchor="end">−0.10</text>
<text x="443.1" y="612.4" text-anchor="end">−0.15</text>
</g>
<text x="600.25" y="666.75" text-anchor="middle" font-size="12.6" font-weight="bold" fill="#333333">Midnight</text>
<text transform="translate(404.75 512.5) rotate(-90)" text-anchor="middle" font-size="12.6" font-weight="bold" fill="#333333">SHAP value for Midnight</text>
<text x="615.25" y="382" text-anchor="middle" font-size="16.4" font-weight="bold" fill="#000">F</text>
<rect x="454" y="391.25" width="100.25" height="16.5" rx="1.6" fill="#fff" fill-opacity="0.8" stroke="#ccc" stroke-opacity="0.8" stroke-width="1"/>
<path d="M457.3 399.5h20" stroke="#EE6A6E" stroke-width="1.9" fill="none"/>
<text x="483.3" y="402.8" font-size="9.1" fill="#000">LOWESS Curve</text>
<path d="M852.5 472h0M852.5 474h0M886.84 488.75h0M886.84 490.72V492M898.29 423.25h0M898.29 452.5h0M898.29 455.75h0M898.29 459h0M898.29 464h0M898.29 466.25h0M898.29 468.25h0M898.29 482.5h0M898.29 493.25h0M909.74 420.5h0M909.74 442.75h0M909.74 477h0M909.74 486.75h0M921.19 398.5h0M921.19 414V418.25M921.19 448.25V450.76M921.19 452.82V454.44M921.19 456.68h0M921.19 458.84h0M921.19 460.75h0M921.19 465.25h0M921.19 475.75V477.08M921.19 479.5h0M921.19 486.5h0M921.19 490.5h0M932.64 421.5V422.64M932.64 424.65V425.75M932.64 432h0M932.64 441.5V442.81M932.64 445.15h0M932.64 447h0M932.64 454.5h0M932.64 456.92h0M932.64 459.5h0M932.64 467h0M932.64 469.03h0M932.64 470.75h0M932.64 474.5V478.25M932.64 482.5h0M944.08 411h0M944.08 434.5h0M944.08 436.32V442M944.08 447V452.84M944.08 454.63h0M944.08 456.53h0M944.08 458.82V464.49M944.08 466.39h0M944.08 468.16V470.94M944.08 473.09h0M944.08 475.07h0M944.08 477.04h0M944.08 479.12h0M944.08 481.42V483.93M944.08 485.69h0M944.08 487.78h0M944.08 489.58h0M944.08 491.39V495.75M955.53 410.5h0M955.53 422h0M955.53 424.48h0M955.53 426.28h0M955.53 428.03V429.31M955.53 431.25V432.65M955.53 434.62V436.11M955.53 437.87V439.5M955.53 445.75V447.29M955.53 449.5h0M955.53 454.5V456.05M955.53 457.83h0M955.53 460.75h0M955.53 464.5h0M955.53 466.29h0M955.53 468.25h0M955.53 483.75h0M955.53 491.25h0M966.98 457.5h0M966.98 475V476.67M966.98 478.41h0M966.98 480.41h0M966.98 482.21h0M966.98 484.25V491.21M966.98 493.14h0M966.98 495.21h0M966.98 497.58h0M966.98 499.63h0M966.98 502h0M978.43 448.25V449.83M978.43 451.6V454.5M978.43 459.5h0M978.43 462h0M978.43 469.5h0M978.43 475.75h0M978.43 477.73V479.26M978.43 481.4h0M978.43 483.24V484.77M978.43 487.07V490.75M989.88 433.5h0M989.88 438.25h0M989.88 440.75h0M989.88 445.75h0M989.88 450.75V452.2M989.88 454.68V455.93M989.88 457.66h0M989.88 459.41h0M989.88 461.56V464.34M989.88 466.48h0M989.88 468.68h0M989.88 470.59h0M989.88 472.95V474.61M989.88 476.33h0M989.88 478.13V479.41M989.88 481.67V484.06M989.88 486.44h0M989.88 488.17V489.48M989.88 491.82V493.18M989.88 494.92V497.34M989.88 499.11h0M989.88 501.19V502.48M989.88 504.64h0M989.88 506.64h0M989.88 508.5h0M989.88 511.5h0M1001.32 483.25h0M1001.32 487h0M1001.32 489.45h0M1001.32 491.22V493.51M1001.32 495.83V498.56M1001.32 500.58h0M1001.32 502.71h0M1001.32 504.86h0M1001.32 506.75V508.31M1001.32 510.67V513.25M1001.32 515.74V518.5M1012.77 485.75h0M1012.77 489.5h0M1012.77 491.44h0M1012.77 493.43h0M1012.77 495.41h0M1012.77 497.14h0M1012.77 499.42V502.1M1012.77 504.28h0M1012.77 506.42h0M1012.77 508.41h0M1012.77 510.48V511.99M1012.77 513.93h0M1012.77 515.83h0M1012.77 518.07V523.5M1012.77 538.5h0M1024.22 482.75h0M1024.22 488.25h0M1024.22 490.37h0M1024.22 492.16V493.35M1024.22 495.7h0M1024.22 497.53h0M1024.22 499.79h0M1024.22 501.93V505.13M1024.22 507h0M1024.22 509.42h0M1024.22 511.64h0M1024.22 513.5h0M1024.22 517.25h0M1024.22 519.15h0M1024.22 521.5h0M1035.67 488.75h0M1035.67 492V493.52M1035.67 495.39h0M1035.67 497.27h0M1035.67 499.44h0M1035.67 501.71h0M1035.67 504.07V505.52M1035.67 507.53V510.22M1035.67 512.16V513.26M1035.67 515.57h0M1035.67 517.43V520.55M1035.67 522.71h0M1035.67 524.75h0M1035.67 529h0M1035.67 536h0M1047.12 493.25h0M1047.12 495.63h0M1047.12 497.65h0M1047.12 499.49V500.86M1047.12 502.83V505.44M1047.12 507.73V509.32M1047.12 511.5h0M1047.12 513.28h0M1047.12 515.17V516.81M1047.12 519.06h0M1047.12 521.25V522.89M1047.12 524.75h0M1047.12 535.5h0M1058.56 488.25V489.74M1058.56 492.11h0M1058.56 493.85h0M1058.56 495.79h0M1058.56 497.7V500.5M1058.56 502.69h0M1058.56 504.61V507.39M1058.56 509.7h0M1058.56 511.94h0M1058.56 514.28V515.63M1058.56 517.49h0M1058.56 519.21V523.5M1058.56 528.5h0M1058.56 530.4V533M1070.01 489.5h0M1070.01 495.75V497.1M1070.01 499.33h0M1070.01 501.64h0M1070.01 503.68V505.29M1070.01 507.14h0M1070.01 509.13V510.47M1070.01 512.92h0M1070.01 515.3V519.39M1070.01 522.25h0M1070.01 532.75h0M1081.46 489h0M1081.46 493.25h0M1081.46 495.62h0M1081.46 498.04V499.74M1081.46 501.6V504.12M1081.46 506.12h0M1081.46 507.98h0M1081.46 510.31h0M1081.46 512.7h0M1081.46 514.55V515.73M1081.46 517.63h0M1081.46 520.03h0M1081.46 521.8h0M1081.46 523.8h0M1081.46 525.62h0M1081.46 527.35V530.46M1081.46 532.19h0M1081.46 534.41h0M1081.46 537.25h0M1081.46 541V543.55M1081.46 545.25h0M1092.91 510.5h0M1092.91 519.75V522.09M1092.91 524.21V525.59M1092.91 527.62h0M1092.91 529.88V535.19M1092.91 537.67h0M1092.91 539.99h0M1092.91 542.45V545.51M1092.91 547.38V548.57M1092.91 550.58h0M1092.91 552.9h0M1092.91 555.3h0M1092.91 557.61V559.14M1092.91 561.36V562.75M1092.91 564.49V567.25M1092.91 580.5V583.31M1092.91 585.45h0M1092.91 587.33V594.37M1092.91 596.8h0M1092.91 598.99h0M1092.91 601h0M1092.91 625.75h0M1104.36 517.75h0M1104.36 523.5V524.73M1104.36 526.54h0M1104.36 528.5h0M1104.36 532.25h0M1104.36 534.5V537.54M1104.36 539.49V540.8M1104.36 542.75V543.95M1104.36 546.2V549.22M1104.36 551.3h0M1104.36 553.24h0M1104.36 555.72h0M1104.36 557.74h0M1104.36 559.75h0M1104.36 563.5V564.8M1104.36 566.99V568.5M1115.8 496.5h0M1115.8 503.25h0M1115.8 514.75V516.12M1115.8 518.37V522.66M1115.8 524.39h0M1115.8 526.59h0M1115.8 528.42V529.94M1115.8 531.94V533.07M1115.8 535.2h0M1115.8 537.25h0M1115.8 538.99V541.86M1115.8 544.22h0M1115.8 546.63h0M1115.8 548.79h0M1115.8 550.87h0M1115.8 553.35V554.83M1115.8 557.16h0M1115.8 559.54h0M1115.8 561.81V564.75M1115.8 579.75h0M1115.8 586.25h0M1127.25 499h0M1127.25 509.75h0M1127.25 513.5V516.07M1127.25 518.35V519.65M1127.25 521.65V523.03M1127.25 525.49h0M1127.25 527.89h0M1127.25 530.34h0M1127.25 532.27h0M1127.25 534.77V536.08M1127.25 537.99V539.24M1127.25 541.17h0M1127.25 543.66h0M1127.25 545.78h0M1127.25 547.99h0M1127.25 550.36h0M1127.25 552.67h0M1127.25 554.63h0M1127.25 556.82V559.58M1127.25 561.7h0M1127.25 563.81V565.47M1127.25 567.23V568.8M1127.25 571.01h0M1127.25 572.74V575.71M1127.25 577.45h0M1127.25 579.79V585.58M1127.25 587.94h0M1127.25 589.75h0M1127.25 593.5h0M1127.25 596h0M1127.25 599.25h0M1127.25 607.25h0M1127.25 616h0" fill="none" stroke="#0C7EE4" stroke-width="3.8" stroke-linecap="round"/>
<path d="M838 504H1140.5" stroke="#111" stroke-width="1.4" stroke-dasharray="8.9 2.25 1.4 2.25" fill="none"/>
<path d="M852 426C874.92 435.5 897.83 444.57 920.75 454.5C928.42 457.82 936.08 461.98 943.75 465.75C951.33 469.48 958.92 473.27 966.5 477C974.17 480.77 981.83 484.56 989.5 488.25C997.08 491.9 1004.67 495.55 1012.25 499C1017.5 501.39 1022.75 503.7 1028 505.75C1030.42 506.7 1032.83 507.58 1035.25 508C1039.08 508.66 1042.92 508.49 1046.75 509C1050.5 509.49 1054.25 510.05 1058 511C1061.83 511.97 1065.67 513 1069.5 514.75C1073.33 516.5 1077.17 519.42 1081 521.5C1084.83 523.58 1088.67 525.31 1092.5 527.25C1096.25 529.15 1100 531.02 1103.75 533C1107.58 535.02 1111.42 537.17 1115.25 539.25C1119.08 541.33 1122.92 543.42 1126.75 545.5" fill="none" stroke="#EE6A6E" stroke-width="2" stroke-linejoin="round" stroke-linecap="butt"/>
<path d="M838 387.75V637H1140.5" fill="none" stroke="#3c3c3c" stroke-width="1.1" stroke-linecap="square"/>
<path d="M863.25 637v3.7M919.5 637v3.7M975.5 637v3.7M1031.75 637v3.7M1088 637v3.7M838 394h-3.7M838 430.5h-3.7M838 467h-3.7M838 503.75h-3.7M838 540.25h-3.7M838 577h-3.7M838 613.75h-3.7" fill="none" stroke="#2a2a2a" stroke-width="1.3"/>
<g font-size="11.2" fill="#333333">
<text x="863.25" y="652.6" text-anchor="middle">−3</text>
<text x="919.5" y="652.6" text-anchor="middle">−2</text>
<text x="975.5" y="652.6" text-anchor="middle">−1</text>
<text x="1031.75" y="652.6" text-anchor="middle">0</text>
<text x="1088" y="652.6" text-anchor="middle">1</text>
<text x="831.3" y="398.4" text-anchor="end">0.15</text>
<text x="831.3" y="434.9" text-anchor="end">0.10</text>
<text x="831.3" y="471.4" text-anchor="end">0.05</text>
<text x="831.3" y="508.15" text-anchor="end">0.00</text>
<text x="831.3" y="544.65" text-anchor="end">−0.05</text>
<text x="831.3" y="581.4" text-anchor="end">−0.10</text>
<text x="831.3" y="618.15" text-anchor="end">−0.15</text>
</g>
<text x="989.25" y="666.75" text-anchor="middle" font-size="12.6" font-weight="bold" fill="#333333">PN</text>
<text transform="translate(792.75 512.5) rotate(-90)" text-anchor="middle" font-size="12.6" font-weight="bold" fill="#333333">SHAP value for PN</text>
<text x="1004.25" y="382" text-anchor="middle" font-size="16.4" font-weight="bold" fill="#000">G</text>
<rect x="1036.3" y="391.25" width="100" height="16.5" rx="1.6" fill="#fff" fill-opacity="0.8" stroke="#ccc" stroke-opacity="0.8" stroke-width="1"/>
<path d="M1039.6 399.5h20" stroke="#EE6A6E" stroke-width="1.9" fill="none"/>
<text x="1065.6" y="402.8" font-size="9.1" fill="#000">LOWESS Curve</text>
<path d="M1240.9 445h0M1240.9 459.5h0M1257.01 422h0M1257.01 465.75V466.95M1257.01 469.5h0M1257.01 477h0M1257.01 498.75h0M1257.01 511.5h0M1257.01 516h0M1273.12 401h0M1273.12 409.5h0M1273.12 425.25h0M1273.12 432h0M1273.12 438.25h0M1273.12 444h0M1273.12 446.49V448.07M1273.12 449.93V451.55M1273.12 454.5h0M1273.12 459.5h0M1273.12 466.5h0M1273.12 472h0M1273.12 474.06h0M1273.12 476h0M1273.12 478.46h0M1273.12 480.55V483.76M1273.12 485.75h0M1273.12 487.82V489.23M1273.12 491.46h0M1273.12 493.19h0M1273.12 495.37V505.4M1273.12 507.69h0M1273.12 509.68V511.27M1273.12 513.07V514.42M1273.12 516.84h0M1273.12 519.21h0M1273.12 521h0M1273.12 527.25V528.56M1273.12 531V534.75M1273.12 539.75h0M1289.23 435.75h0M1289.23 446.25h0M1289.23 453.5h0M1289.23 461.25h0M1289.23 467h0M1289.23 472V473.63M1289.23 475.75h0M1289.23 482h0M1289.23 487V489.49M1289.23 491.21V492.37M1289.23 494.39h0M1289.23 496.18h0M1289.23 498.5V499.5M1289.23 508.5h0M1289.23 514V515.43M1289.23 517.63h0M1289.23 519.43h0M1289.23 522.25h0M1289.23 529.75V530.96M1289.23 532.75h0M1305.34 452.75h0M1305.34 454.5h0M1305.34 487.75h0M1305.34 494.5h0M1305.34 499.5V505.34M1305.34 507.83V510.5M1305.34 521h0M1305.34 527.25V528.72M1305.34 531h0M1305.34 539h0M1305.34 555h0M1321.45 484.25h0M1321.45 492V494.55M1321.45 497.03V498.15M1321.45 500.14V501.53M1321.45 503.44V504.98M1321.45 506.96h0M1321.45 509.01h0M1321.45 511.16V512.43M1321.45 514.69V516.12M1321.45 518.05h0M1321.45 520.29h0M1321.45 522.47h0M1321.45 524.31h0M1321.45 526.11V527.42M1321.45 529.75h0M1321.45 531.69h0M1321.45 533.87h0M1321.45 536.32h0M1321.45 538.4V539.92M1321.45 541.69V544.52M1321.45 547.25h0M1321.45 551h0M1321.45 553.04V554M1337.56 475.5h0M1337.56 495.75h0M1337.56 497.58V499.25M1337.56 501.5h0M1337.56 503.76V507.93M1337.56 509.82V512.58M1337.56 514.73h0M1337.56 516.69V520.98M1337.56 522.9V527.64M1337.56 529.6h0M1337.56 531.7h0M1337.56 533.69V534.75M1337.56 544.75h0M1337.56 562.75h0M1353.67 495.25V496.85M1353.67 498.75h0M1353.67 510.25h0M1353.67 518.5h0M1353.67 520.73h0M1353.67 522.57V528.32M1353.67 530.4V531.6M1353.67 533.79V536.54M1353.67 538.51V539.82M1353.67 542.3h0M1353.67 544.35h0M1353.67 546.48h0M1353.67 548.34V549.75M1353.67 561.25h0M1369.78 510.75h0M1369.78 517.25h0M1369.78 519.54h0M1369.78 521.41V522.71M1369.78 524.75h0M1369.78 527.24V528.68M1369.78 530.76V532.02M1369.78 534.27h0M1369.78 536.12h0M1369.78 538.01h0M1369.78 539.93h0M1369.78 541.76h0M1369.78 543.79h0M1369.78 545.75V547.26M1369.78 549.58V550.86M1369.78 553V557.42M1369.78 559.21V560.5M1369.78 562.48h0M1369.78 564.91h0M1369.78 567.01h0M1369.78 568.89h0M1369.78 570.82h0M1369.78 573.5h0M1369.78 578.5h0M1385.89 521h0M1385.89 529.75h0M1385.89 531.92h0M1385.89 534h0M1385.89 535.81h0M1385.89 537.96h0M1385.89 539.97V545.65M1385.89 547.72h0M1385.89 549.48h0M1385.89 551.54h0M1385.89 553.64h0M1385.89 556.07h0M1385.89 557.92V559.4M1385.89 561.87V563.43M1385.89 565.58V568.68M1385.89 570.68h0M1385.89 573.06h0M1385.89 576h0M1385.89 586h0M1385.89 592.5h0M1402 542.25h0M1402 544.7V546M1402 552.25h0M1402 554.39h0M1402 556.54h0M1402 558.35h0M1402 560.49V562.13M1402 563.86V566.7M1402 569.11h0M1402 570.96h0M1402 572.77h0M1402 574.86V577.59M1402 579.57V581M1418.11 546V547.35M1418.11 549.15V550.8M1418.11 553.2h0M1418.11 554.98h0M1418.11 557.39h0M1418.11 559.58h0M1418.11 561.6h0M1418.11 563.51V564.82M1418.11 567.13V568.44M1418.11 570.68h0M1418.11 573.14h0M1418.11 575.47h0M1418.11 577.79h0M1418.11 579.99h0M1418.11 581.77h0M1418.11 583.5h0M1418.11 590.5h0M1434.22 557.75h0M1434.22 559.84h0M1434.22 561.84h0M1434.22 563.62h0M1434.22 565.59h0M1434.22 567.76V569.02M1434.22 571.02h0M1434.22 573.41V574.63M1434.22 577.13h0M1434.22 579.46h0M1434.22 581.2h0M1434.22 583.11V587.8M1434.22 589.75h0M1434.22 593.5h0M1450.33 518h0M1450.33 524.75V525.95M1450.33 527.7V529.19M1450.33 531.18h0M1450.33 533.6h0M1450.33 535.57V536.97M1450.33 539.44V541.11M1450.33 543.4h0M1450.33 545.74V548.6M1450.33 551.04h0M1450.33 553.36V554.76M1450.33 557.09h0M1450.33 559.34V561.96M1450.33 563.87V571.71M1450.33 573.5h0M1450.33 579h0M1450.33 587.5h0M1466.44 510h0M1466.44 522.5h0M1466.44 530.5h0M1466.44 536h0M1466.44 537.81h0M1466.44 539.76V542.75M1466.44 544.6h0M1466.44 546.54V548.2M1466.44 550h0M1466.44 551.94h0M1466.44 554.39V555.63M1466.44 557.92h0M1466.44 560.15V561.82M1466.44 563.81h0M1466.44 566.16h0M1466.44 568.35h0M1466.44 570.54V574.51M1466.44 576.97V580.05M1466.44 582.15h0M1466.44 584.42V585.91M1466.44 588.27V589.84M1466.44 592.15V593.46M1466.44 595.85V597M1466.44 599.33V600.97M1466.44 603h0M1466.44 605.22h0M1466.44 607.64h0M1466.44 609.99h0M1466.44 612.22V613.46M1466.44 615.92V617.25M1466.44 625.5h0M1482.55 452.75h0M1482.55 457.5h0M1482.55 474.5h0M1482.55 485h0M1482.55 491.25h0M1482.55 499.5V502.39M1482.55 504.53h0M1482.55 507.03h0M1482.55 508.99h0M1482.55 511h0M1482.55 517.25h0M1482.55 522.25h0M1482.55 524.11h0M1482.55 525.96V527.13M1482.55 529.27h0M1482.55 531.7V532.86M1482.55 534.77h0M1482.55 536.62V537.77M1482.55 540.22h0M1482.55 542.3V543.54M1482.55 546.02V547.32M1482.55 549.24V553.5M1482.55 558.75h0M1482.55 567.5h0M1498.66 399h0M1498.66 404.5h0M1498.66 449h0M1498.66 467.75h0M1498.66 472.75h0M1498.66 480.75h0M1498.66 483V484.12M1498.66 486.35h0M1498.66 488.35V489.5M1498.66 494.5V495.68M1498.66 497.46V498.6M1498.66 500.55V502M1498.66 504.5V506.13M1498.66 508.63h0M1498.66 511.09h0M1498.66 513.32V514.75M1498.66 521h0M1498.66 523.49h0M1498.66 526h0M1498.66 537.25h0M1498.66 544.25h0M1514.77 430.75h0M1514.77 432.5h0M1514.77 459.5h0M1514.77 470.75h0M1514.77 473.21h0M1514.77 475.11h0M1514.77 476.88h0M1514.77 479.14V482M1514.77 487V488.31M1514.77 490.64V493.36M1514.77 495.19h0M1514.77 497.21V498.7M1514.77 501.01h0M1514.77 503.17V504.55M1514.77 506.34h0M1514.77 508.49h0M1514.77 510.24V511.94M1514.77 513.68V515.02M1514.77 517.09h0M1514.77 518.92h0M1514.77 521.03V522.7M1514.77 524.61h0M1514.77 526.83V529.18M1514.77 531.31V534.11M1514.77 535.87h0M1514.77 538.21V539.38M1514.77 541.82h0M1514.77 543.83V549.76M1514.77 552.08h0M1514.77 554.03h0M1514.77 556.35V557.25M1514.77 573.5h0M1514.77 591h0" fill="none" stroke="#0C7EE4" stroke-width="3.8" stroke-linecap="round"/>
<path d="M1227.5 547.5H1529" stroke="#111" stroke-width="1.4" stroke-dasharray="8.9 2.25 1.4 2.25" fill="none"/>
<path d="M1240.75 472.25C1251.5 478 1262.25 483.4 1273 489.5C1281.92 494.56 1290.83 500.3 1299.75 505.75C1306.92 510.13 1314.08 514.75 1321.25 519C1326.58 522.16 1331.92 524.96 1337.25 528C1342.58 531.04 1347.92 534.25 1353.25 537.25C1358.58 540.25 1363.92 543.08 1369.25 546C1374.58 548.92 1379.92 552.04 1385.25 554.75C1390.58 557.46 1395.92 560.25 1401.25 562.25C1406.58 564.25 1411.92 565.67 1417.25 566.75C1420.17 567.34 1423.08 567.34 1426 567.25C1428.5 567.17 1431 566.86 1433.5 566.25C1438.83 564.95 1444.17 563.62 1449.5 561.5C1454.83 559.38 1460.17 556.17 1465.5 553.5C1470.83 550.83 1476.17 548.17 1481.5 545.5C1487 542.75 1492.5 539.92 1498 537.25C1503.33 534.67 1508.67 532.25 1514 529.75" fill="none" stroke="#EE6A6E" stroke-width="2" stroke-linejoin="round" stroke-linecap="butt"/>
<path d="M1227.5 387.75V636.9H1527.25" fill="none" stroke="#3c3c3c" stroke-width="1.1" stroke-linecap="square"/>
<path d="M1279.25 636.9v3.7M1341 636.9v3.7M1402.5 636.9v3.7M1464.25 636.9v3.7M1525.75 636.9v3.7M1227.5 425h-3.7M1227.5 465.75h-3.7M1227.5 506.5h-3.7M1227.5 547.25h-3.7M1227.5 587.75h-3.7M1227.5 628.5h-3.7" fill="none" stroke="#2a2a2a" stroke-width="1.3"/>
<g font-size="11.2" fill="#333333">
<text x="1279.25" y="652.5" text-anchor="middle">−2</text>
<text x="1341" y="652.5" text-anchor="middle">−1</text>
<text x="1402.5" y="652.5" text-anchor="middle">0</text>
<text x="1464.25" y="652.5" text-anchor="middle">1</text>
<text x="1525.75" y="652.5" text-anchor="middle">2</text>
<text x="1220.8" y="429.4" text-anchor="end">0.15</text>
<text x="1220.8" y="470.15" text-anchor="end">0.10</text>
<text x="1220.8" y="510.9" text-anchor="end">0.05</text>
<text x="1220.8" y="551.65" text-anchor="end">0.00</text>
<text x="1220.8" y="592.15" text-anchor="end">−0.05</text>
<text x="1220.8" y="632.9" text-anchor="end">−0.10</text>
</g>
<text x="1377.25" y="666" text-anchor="middle" font-size="12.6" font-weight="bold" fill="#333333">SI</text>
<text transform="translate(1181.75 512.5) rotate(-90)" text-anchor="middle" font-size="12.6" font-weight="bold" fill="#333333">SHAP value for SI</text>
<text x="1392.25" y="382" text-anchor="middle" font-size="16.4" font-weight="bold" fill="#000">H</text>
<rect x="1231.5" y="616" width="99.5" height="16.25" rx="1.6" fill="#fff" fill-opacity="0.8" stroke="#ccc" stroke-opacity="0.8" stroke-width="1"/>
<path d="M1234.8 624.12h20" stroke="#EE6A6E" stroke-width="1.9" fill="none"/>
<text x="1260.8" y="627.42" font-size="9.1" fill="#000">LOWESS Curve</text>
</svg>
</body>
</html>
